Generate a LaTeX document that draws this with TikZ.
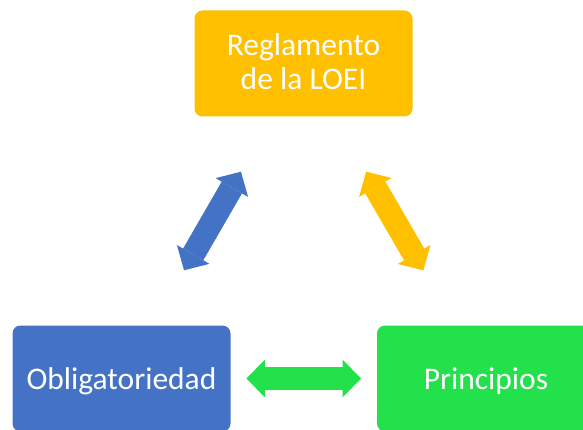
\documentclass[tikz,border=0pt]{standalone}
\usepackage{fontspec}
\setmainfont{Carlito}
\usepackage{tikz}
\usetikzlibrary{arrows.meta}
\usetikzlibrary{positioning}
\definecolor{loei}{RGB}{255, 192, 0}
\definecolor{oblig}{RGB}{68, 114, 196}
\definecolor{princ}{RGB}{35, 225, 75}
\tikzset{
	box/.style={rounded corners=8pt, minimum width=218pt, minimum height=106pt, inner sep=0pt, text=white, font=\fontsize{31.5}{34}\selectfont},
	link/.style={line width=23.4pt, {Triangle[length=18.3pt,width=37.6pt,line width=0pt]}-{Triangle[length=18.3pt,width=37.6pt,line width=0pt]}, shorten <=125pt, shorten >=125pt}
}

\begin{document}
\begin{tikzpicture}[x=1pt,y=-1pt]
	\useasboundingbox (0,0) rectangle (583,430);
	\node[box,fill=loei,align=center,text height=55pt,text depth=2pt] (regl) at (303.5,63.5) {Reglamento\\de la LOEI};
	\node[box,fill=oblig,text height=21pt,text depth=0pt] (obl) at (121.5,378.5) {Obligatoriedad};
	\node[box,fill=princ,text height=21pt,text depth=0pt] (prin) at (486,378.5) {Principios};

	\draw[link,oblig] (obl.center) -- (regl.center);
	\draw[link,loei] (regl.center) -- (prin.center);
	\draw[link,princ] (obl.center) -- (prin.center);
\end{tikzpicture}
\end{document}
